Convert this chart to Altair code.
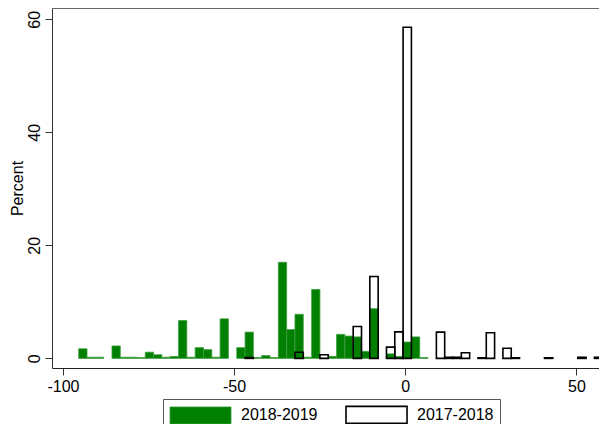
import altair as alt
import pandas as pd

# ---- data (percent per bin) ----
BIN_START = -95.4
BIN_WIDTH = 2.43

series_names = ["2018-2019", "2017-2018"]

pct_2018_2019 = [
    1.7, 0.2, 0.2, 0, 2.2, 0.2, 0.2, 0.15, 1.1, 0.65,
    0.2, 0.35, 6.7, 0.2, 1.9, 1.55, 0.2, 7.0, 0, 1.9,
    4.65, 0.15, 0.5, 0.15, 17.0, 5.1, 7.8, 0.2, 12.2, 0,
    0.35, 4.25, 3.95, 3.8, 1.25, 8.8, 0, 0.8, 0.35, 2.9,
    3.8, 0.15, 0, 0, 0, 0, 0, 0, 0, 0,
    0, 0, 0, 0, 0, 0, 0, 0, 0, 0,
    0, 0, 0,
]

pct_2017_2018 = [
    0, 0, 0, 0, 0, 0, 0, 0, 0, 0,
    0, 0, 0, 0, 0, 0, 0, 0, 0, 0,
    0.15, 0, 0, 0, 0, 0, 1.1, 0, 0, 0.65,
    0, 0, 0, 5.65, 0, 14.5, 0, 2.0, 4.7, 58.6,
    0, 0, 0, 4.65, 0.2, 0.2, 1.0, 0, 0.1, 4.55,
    0, 1.8, 0.1, 0, 0, 0, 0.1, 0, 0, 0,
    0.2, 0, 0.2,
]

x_ticks = [-100, -50, 0, 50]
y_ticks = [0, 20, 40, 60]

rows = []
for name, vals in zip(series_names, [pct_2018_2019, pct_2017_2018]):
    for i, v in enumerate(vals):
        if v > 0:
            lo = BIN_START + i * BIN_WIDTH
            rows.append({"series": name, "lo": lo, "hi": lo + BIN_WIDTH, "pct": v})
df = pd.DataFrame(rows)

FONT = "Liberation Sans"

legend_cfg = dict(
    title=None,
    orient="none",
    legendX=111,
    legendY=391,
    direction="horizontal",
    columns=2,
    symbolType="M-1,-1L6.18,-1L6.18,1L-1,1Z",
    symbolSize=289,
    symbolStrokeWidth=1.6,
    labelFont=FONT,
    labelFontSize=16,
    labelColor="black",
    labelOffset=53,
    columnPadding=24,
    padding=6,
    strokeColor="#555555",
    fillColor="white",
)

bars = alt.Chart(df).mark_bar(clip=True).encode(
    x=alt.X(
        "lo:Q",
        scale=alt.Scale(domain=[-103.2, 56.6], nice=False, zero=False),
        axis=alt.Axis(
            values=x_ticks, title=None, grid=False, tickSize=7, labelPadding=3,
            labelFont=FONT, labelFontSize=16, labelColor="black",
            domainColor="#222222", tickColor="#333333",
            labelExpr="'' + datum.value",
        ),
    ),
    x2="hi:Q",
    y=alt.Y(
        "pct:Q",
        scale=alt.Scale(domain=[-1.7, 62.0], nice=False, zero=False),
        axis=alt.Axis(
            values=y_ticks, title="Percent", grid=False, tickSize=7,
            labelAngle=270, labelAlign="center", labelBaseline="alphabetic",
            labelPadding=6, labelFont=FONT, labelFontSize=16, labelColor="black",
            domainColor="#333333", tickColor="#333333",
            titleFont=FONT, titleFontSize=16, titleFontWeight="normal",
            titleColor="black", titleX=-30, titleY=180, titleAngle=270,
            titleAlign="center", titleBaseline="alphabetic",
        ),
    ),
    y2=alt.datum(0),
    fill=alt.Fill(
        "series:N",
        scale=alt.Scale(domain=series_names, range=["#007f00", "transparent"]),
        legend=alt.Legend(**legend_cfg),
    ),
    stroke=alt.Stroke(
        "series:N",
        scale=alt.Scale(domain=series_names, range=["#3d9e3d", "#000000"]),
        legend=alt.Legend(**legend_cfg),
    ),
    strokeWidth=alt.StrokeWidth(
        "series:N",
        scale=alt.Scale(domain=series_names, range=[0.8, 1.6]),
        legend=None,
    ),
)

top_rule = alt.Chart(pd.DataFrame({"k": [0]})).mark_rule(
    color="#666666", strokeWidth=1
).encode(x=alt.value(0), x2=alt.value(547), y=alt.value(0.5))

chart = alt.layer(bars, top_rule).properties(
    width=547,
    height=360,
    autosize=alt.AutoSizeParams(type="none"),
    padding={"left": 44, "top": 0, "right": 0, "bottom": 56},
).configure_view(stroke=None)

chart.save("out.html", embed_options={"renderer": "svg", "actions": False})
